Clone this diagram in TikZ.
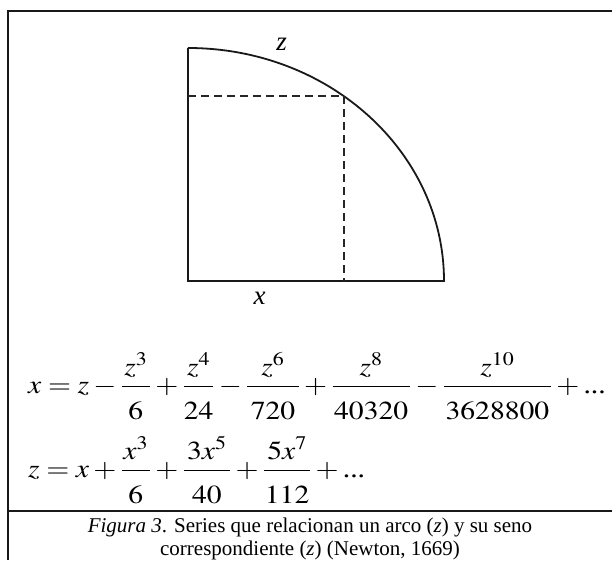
\documentclass[tikz,border=0pt]{standalone}
\usepackage{mathptmx}
\usepackage[no-math]{fontspec}
\setmainfont{Liberation Serif}
\usetikzlibrary{calc}
\newcommand{\dstrut}{\rule{0pt}{29pt}}
\newcommand{\tdots}{\mbox{...}}
\begin{document}
\begin{tikzpicture}[x=1pt,y=1pt,
  frameline/.style={line width=2.2pt,black!90},
  shapeline/.style={line width=1.8pt,black!90},
  dashline/.style={line width=1.5pt,black!85,dash pattern=on 8pt off 5pt},
  eqn/.style={anchor=base west,inner sep=0pt,xscale=1.14,font=\fontsize{26}{30}\selectfont},
  lbl/.style={inner sep=0pt,font=\fontsize{27}{30}\selectfont\itshape},
  captext/.style={inner sep=0pt,anchor=base,font=\fontsize{21}{24}\selectfont}]
\useasboundingbox (0,0) rectangle (612,560);
% frame
\coordinate (FTL) at (8,549);
\coordinate (FTR) at (612,549);
\coordinate (FBL) at (8,0);
\coordinate (FML) at (8,49);
\coordinate (FMR) at (612,49);
\draw[frameline] (FTR) -- (FTL) -- (FBL);
\draw[frameline] (FML) -- (FMR);
% quarter ellipse
\coordinate (O) at (188,279);
\coordinate (T) at (188,512);
\coordinate (R) at (444,279);
\coordinate (P) at ($(O)+(52.5:256pt and 233pt)$);
\draw[shapeline] (T) -- (O) -- (R) arc[start angle=0,end angle=90,x radius=256,y radius=233];
\draw[dashline] (T |- P) -- (P) -- (P |- O);
\node[lbl] (lz) at (281.5,516) {z};
\node[lbl] (lx) at (259.5,262) {x};
% equations
\node[eqn] (eq1) at (28,167) {\medmuskip=2.5mu\thickmuskip=4mu$\displaystyle x=z-\frac{z^{3}}{\mkern4mu\dstrut 6\mkern4mu}+\frac{z^{4}}{\dstrut 24}-\frac{z^{6}}{\mkern2mu\dstrut 720\mkern2mu}+\frac{z^{8}}{\mkern1mu\dstrut 40320\mkern1mu}-\frac{z^{10}}{\mkern1mu\dstrut 3628800\mkern1mu}+\tdots$};
\node[eqn] (eq2) at (28,83) {\medmuskip=2.5mu\thickmuskip=4mu$\displaystyle z=x+\frac{x^{3}}{\mkern4mu\dstrut 6\mkern4mu}+\frac{\mkern2mu 3x^{5}\mkern2mu}{\dstrut 40}+\frac{\mkern2mu 5x^{7}\mkern2mu}{\dstrut 112}+\tdots$};
% caption
\node[captext] (c1) at (310,28) {\textit{Figura 3}. Series que relacionan un arco (\textit{z}) y su seno};
\node[captext] (c2) at (310,5) {correspondiente (\textit{z}) (Newton, 1669)};
\end{tikzpicture}
\end{document}
